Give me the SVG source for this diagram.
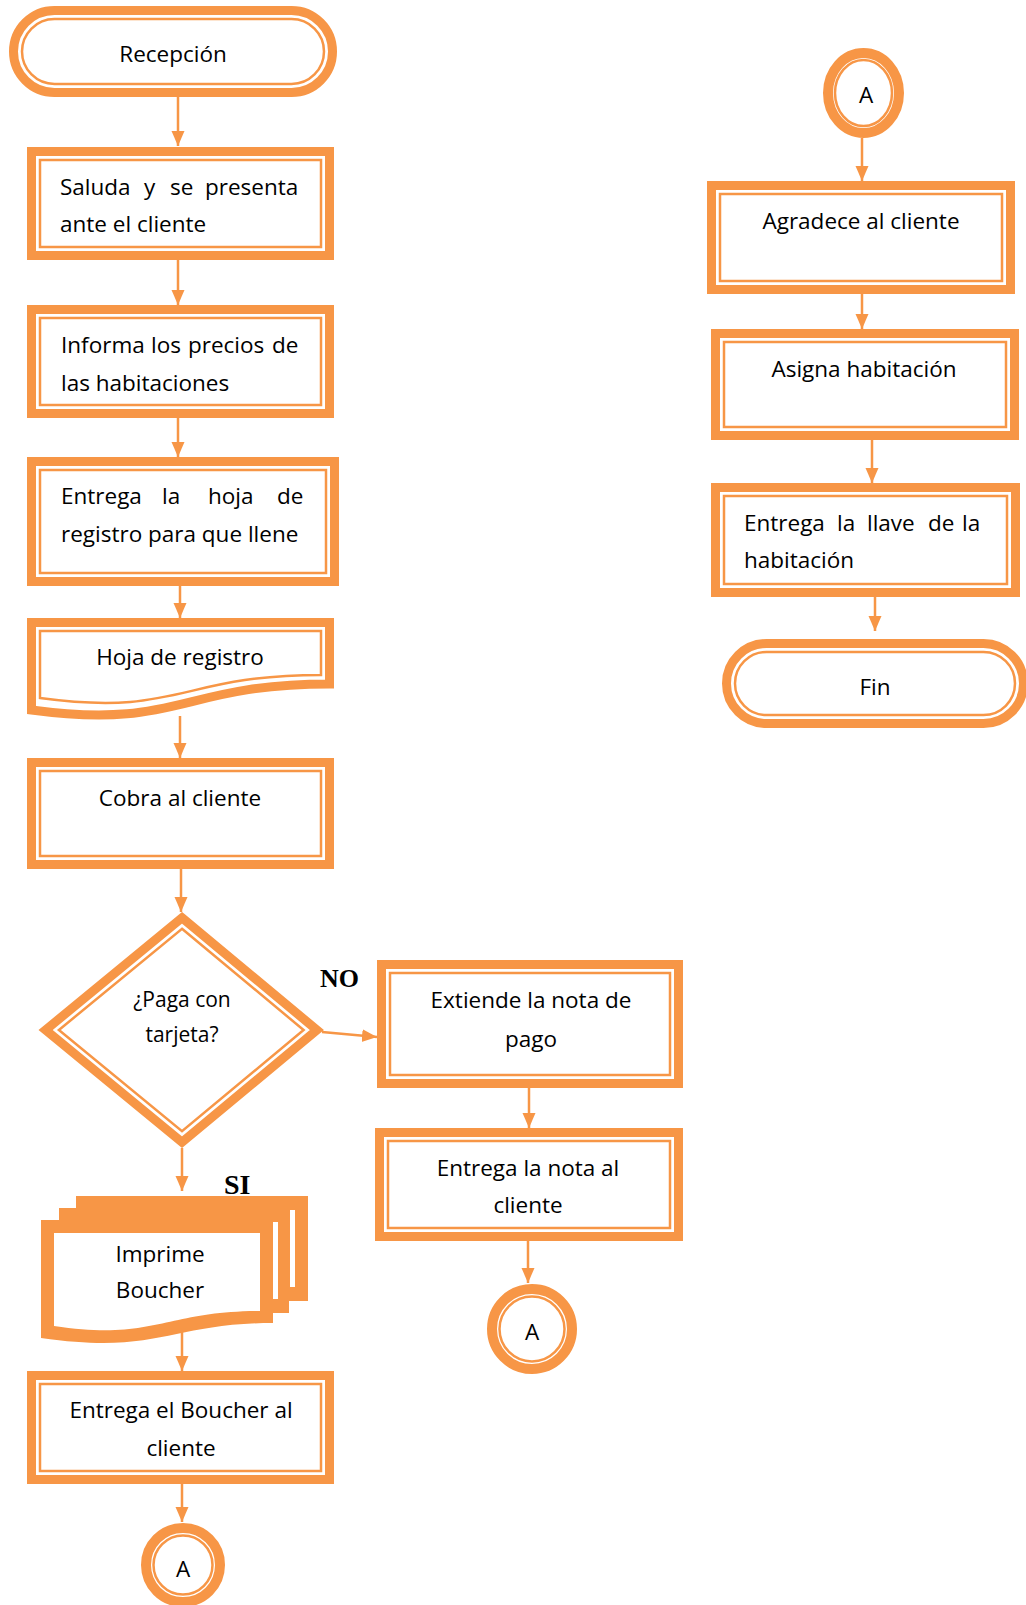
<svg xmlns="http://www.w3.org/2000/svg" width="1026" height="1605" viewBox="0 0 1026 1605">
<defs>
<style>
.thick{fill:none;stroke:#F79646;stroke-width:9;stroke-linejoin:miter}
.thin{fill:none;stroke:#F79646;stroke-width:2.5}
.ring{fill:none;stroke:#F79646;stroke-width:10}
.or{fill:#F79646}
.wh{fill:#FFFFFF}
.t{font-family:"Open Sans","Noto Sans",sans-serif;font-size:22.5px;fill:#000}
.c{text-anchor:middle}
.s{font-size:21px}
.lab{font-family:"Liberation Serif","Times New Roman",serif;font-weight:bold;fill:#000}
.conn line{stroke:#F79646;stroke-width:2.5;fill:none}
</style>
<marker id="ah" markerUnits="userSpaceOnUse" markerWidth="16" markerHeight="14" refX="15" refY="6.5" orient="auto">
<path d="M0,0 L15,6.5 L0,13 Z" fill="#F79646"/>
</marker>
</defs>
<rect x="0" y="0" width="1026" height="1605" fill="#FFFFFF"/>

<g id="n-recepcion">
<rect class="thick" x="13.5" y="10.5" width="319" height="82" rx="41"/>
<rect class="thin" x="22" y="19" width="302" height="65" rx="32.5"/>
<text class="t c" x="173" y="62">Recepción</text>
</g>

<g id="n-saluda">
<rect class="thick" x="31.5" y="151.5" width="298" height="104"/>
<rect class="thin" x="40" y="160" width="281" height="87"/>
<text class="t" y="195"><tspan x="60">Saluda</tspan><tspan x="144">y</tspan><tspan x="170">se</tspan><tspan x="205">presenta</tspan></text>
<text class="t" x="60" y="232">ante el cliente</text>
</g>

<g id="n-informa">
<rect class="thick" x="31.5" y="309.5" width="298" height="104"/>
<rect class="thin" x="40" y="318" width="281" height="87"/>
<text class="t" y="353"><tspan x="61">Informa</tspan><tspan x="151">los</tspan><tspan x="188">precios</tspan><tspan x="272">de</tspan></text>
<text class="t" x="61" y="391">las habitaciones</text>
</g>

<g id="n-entrega-hoja">
<rect class="thick" x="31.5" y="461.5" width="303" height="120"/>
<rect class="thin" x="40" y="470" width="286" height="103"/>
<text class="t" y="504"><tspan x="61">Entrega</tspan><tspan x="162">la</tspan><tspan x="208">hoja</tspan><tspan x="277">de</tspan></text>
<text class="t" x="61" y="542">registro para que llene</text>
</g>

<g id="n-hoja-registro">
<path class="thick" d="M31.5,622.5 H329.5 V684 C180,684 180,730 31.5,710 Z"/>
<path class="thin" d="M40,631 H321 V675 C180,675 180,717 40,698 Z"/>
<text class="t c" x="180" y="665">Hoja de registro</text>
</g>

<g id="n-cobra">
<rect class="thick" x="31.5" y="762.5" width="298" height="102"/>
<rect class="thin" x="40" y="771" width="281" height="85"/>
<text class="t c" x="180" y="806">Cobra al cliente</text>
</g>

<g id="n-decision">
<path class="thick" d="M182,917.8 L316.9,1030 L182,1142.2 L45.6,1030 Z"/>
<path class="thin" d="M182,928.8 L303.6,1030 L182,1131.2 L58.9,1030 Z"/>
<text class="t c s" x="182" y="1007">¿Paga con</text>
<text class="t c s" x="182" y="1042">tarjeta?</text>
</g>

<g id="n-extiende">
<rect class="thick" x="381.5" y="964.5" width="297" height="119"/>
<rect class="thin" x="390" y="973" width="280" height="102"/>
<text class="t c" x="531" y="1008">Extiende la nota de</text>
<text class="t c" x="531" y="1047">pago</text>
</g>

<g id="n-entrega-nota">
<rect class="thick" x="379.5" y="1132.5" width="299" height="104"/>
<rect class="thin" x="388" y="1141" width="282" height="87"/>
<text class="t c" x="528" y="1176">Entrega la nota al</text>
<text class="t c" x="528" y="1213">cliente</text>
</g>

<g id="n-a-mid">
<circle class="ring" cx="532" cy="1329" r="40"/>
<circle class="thin" cx="532" cy="1329" r="32.5"/>
<text class="t c" x="532" y="1340">A</text>
</g>

<g id="n-imprime">
<rect class="or" x="76" y="1196" width="232" height="105"/>
<rect class="wh" x="290" y="1210" width="5" height="77"/>
<rect class="or" x="59" y="1208" width="230" height="105"/>
<rect class="wh" x="273" y="1222" width="5" height="77"/>
<path class="or" d="M41,1220 H273 V1323 C170,1323 160,1355 41,1338 Z"/>
<path class="wh" d="M54,1233 H260 V1311 C165,1311 155,1341 54,1326 Z"/>
<text class="t c" x="160" y="1262">Imprime</text>
<text class="t c" x="160" y="1298">Boucher</text>
</g>

<g id="n-entrega-boucher">
<rect class="thick" x="31.5" y="1375.5" width="298" height="104"/>
<rect class="thin" x="40" y="1384" width="281" height="87"/>
<text class="t c" x="181" y="1418">Entrega el Boucher al</text>
<text class="t c" x="181" y="1456">cliente</text>
</g>

<g id="n-a-bottom">
<circle class="ring" cx="183" cy="1565" r="37"/>
<circle class="thin" cx="183" cy="1565" r="29.5"/>
<text class="t c" x="183" y="1577">A</text>
</g>

<g id="n-a-top">
<ellipse class="ring" cx="863.5" cy="93" rx="35.5" ry="40"/>
<ellipse class="thin" cx="863.5" cy="93" rx="28.5" ry="33"/>
<text class="t c" x="866" y="103">A</text>
</g>

<g id="n-agradece">
<rect class="thick" x="711.5" y="185.5" width="299" height="104"/>
<rect class="thin" x="720" y="194" width="282" height="87"/>
<text class="t c" x="861" y="229">Agradece al cliente</text>
</g>

<g id="n-asigna">
<rect class="thick" x="715.5" y="333.5" width="299" height="102"/>
<rect class="thin" x="724" y="342" width="282" height="85"/>
<text class="t c" x="864" y="377">Asigna habitación</text>
</g>

<g id="n-llave">
<rect class="thick" x="715.5" y="487.5" width="300" height="105"/>
<rect class="thin" x="724" y="496" width="283" height="88"/>
<text class="t" y="531"><tspan x="744">Entrega</tspan><tspan x="837">la</tspan><tspan x="867">llave</tspan><tspan x="928">de</tspan><tspan x="962">la</tspan></text>
<text class="t" x="744" y="568">habitación</text>
</g>

<g id="n-fin">
<rect class="thick" x="726.5" y="643.5" width="297" height="80" rx="40"/>
<rect class="thin" x="735" y="652" width="280" height="63" rx="31.5"/>
<text class="t c" x="875" y="695">Fin</text>
</g>

<g id="labels">
<text class="lab" x="320" y="987" font-size="26">NO</text>
<text class="lab" x="224" y="1194" font-size="28">SI</text>
</g>

<g id="connectors" class="conn">
<line x1="178" y1="97" x2="178" y2="146" marker-end="url(#ah)"/>
<line x1="178" y1="260" x2="178" y2="305" marker-end="url(#ah)"/>
<line x1="178" y1="418" x2="178" y2="457" marker-end="url(#ah)"/>
<line x1="180" y1="586" x2="180" y2="618" marker-end="url(#ah)"/>
<line x1="180" y1="716" x2="180" y2="758" marker-end="url(#ah)"/>
<line x1="181" y1="869" x2="181" y2="912" marker-end="url(#ah)"/>
<line x1="182" y1="1148" x2="182" y2="1191" marker-end="url(#ah)"/>
<line x1="322" y1="1032" x2="377" y2="1037" marker-end="url(#ah)"/>
<line x1="529" y1="1088" x2="529" y2="1128" marker-end="url(#ah)"/>
<line x1="528" y1="1241" x2="528" y2="1283" marker-end="url(#ah)"/>
<line x1="182" y1="1330" x2="182" y2="1371" marker-end="url(#ah)"/>
<line x1="182" y1="1484" x2="182" y2="1522" marker-end="url(#ah)"/>
<line x1="862" y1="138" x2="862" y2="181" marker-end="url(#ah)"/>
<line x1="862" y1="294" x2="862" y2="329" marker-end="url(#ah)"/>
<line x1="872" y1="440" x2="872" y2="483" marker-end="url(#ah)"/>
<line x1="875" y1="597" x2="875" y2="631" marker-end="url(#ah)"/>
</g>
</svg>
